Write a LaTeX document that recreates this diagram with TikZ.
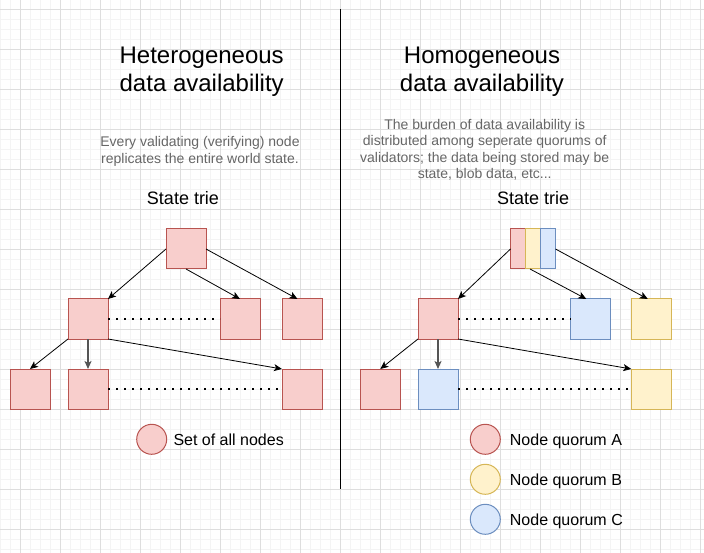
\documentclass[tikz,border=0pt]{standalone}
\usepackage{fontspec}
\setmainfont{Liberation Sans}
\usetikzlibrary{arrows.meta}
\definecolor{redF}{HTML}{F8CECC}
\definecolor{redS}{HTML}{B85450}
\definecolor{yelF}{HTML}{FFF2CC}
\definecolor{yelS}{HTML}{D6B656}
\definecolor{bluF}{HTML}{DAE8FC}
\definecolor{bluS}{HTML}{6C8EBF}
\definecolor{descC}{HTML}{666666}
\definecolor{thickC}{HTML}{555555}
\definecolor{gridMinor}{HTML}{F4F4F4}
\definecolor{gridMajor}{HTML}{DEDEDE}
\begin{document}
\begin{tikzpicture}[x=1pt,y=-1pt,
  box/.style={draw, line width=1pt, minimum size=40pt, inner sep=0pt, outer sep=0pt},
  rbox/.style={box, fill=redF, draw=redS},
  ybox/.style={box, fill=yelF, draw=yelS},
  bbox/.style={box, fill=bluF, draw=bluS},
  stripe/.style={draw, line width=1pt, minimum width=15pt, minimum height=40pt, inner sep=0pt, outer sep=0pt},
  legdot/.style={circle, line width=1pt, minimum size=30pt, inner sep=0pt},
  link/.style={-{Stealth[length=8pt,width=7pt,inset=2pt]}, line width=0.8pt, black},
  thicklink/.style={-{Stealth[length=8pt,width=7pt,inset=2pt]}, line width=2pt, thickC},
  dotline/.style={line width=2pt, dash pattern=on 2pt off 6pt, black},
  title/.style={font=\fontsize{24}{28.3}\selectfont, align=center, inner sep=0pt, anchor=base},
  desc/.style={font=\fontsize{14}{16.5}\selectfont, align=center, text=descC, inner sep=0pt, anchor=base},
  trie/.style={font=\fontsize{18}{21}\selectfont, inner sep=0pt, anchor=base},
  legtext/.style={font=\fontsize{16}{19}\selectfont, inner sep=0pt, anchor=base west},
  gminor/.style={gridMinor, line width=1pt},
  gmajor/.style={gridMajor, line width=1pt}
]
\useasboundingbox (0,0) rectangle (704,553);
\fill[white] (0,0) rectangle (704,553);
% grid
\foreach \x in {0,10,...,700} \draw[gminor] (\x,0) -- (\x,553);
\foreach \y in {9.3,19.3,...,550} \draw[gminor] (0,\y) -- (704,\y);
\foreach \x in {20,60,...,700} \draw[gmajor] (\x,0) -- (\x,553);
\foreach \y in {9.3,49.3,...,550} \draw[gmajor] (0,\y) -- (704,\y);

% divider
\coordinate (divtop) at (340.7,9.3);
\coordinate (divbot) at (340.7,489.3);
\draw[line width=1.3pt, black] (divtop) -- (divbot);

% ---------- left ----------
\node[title] (ltitle) at (201.7,91.6) {Heterogeneous\\data availability};
\node[desc] (ldesc) at (200,163.2) {Every validating (verifying) node\\replicates the entire world state.};
\node[trie] (ltrie) at (183,204.3) {State trie};

\node[rbox] (L0) at (186,249) {};
\node[rbox] (L1) at (88,319) {};
\node[rbox] (L2) at (240,319) {};
\node[rbox] (L3) at (302,319) {};
\node[rbox] (L4) at (30,389) {};
\node[rbox] (L5) at (88,389) {};
\node[rbox] (L6) at (302,389) {};

\draw[link] (L0.west) -- (L1.north east);
\draw[link] (L0.south) -- (L2.north);
\draw[link] (L0.east) -- ([xshift=-4.5pt]L3.north);
\draw[link] (L1.south west) -- (L4.north);
\draw[thicklink] (L1.south) -- (L5.north);
\draw[link] (L1.south east) -- (L6.north west);
\draw[dotline] (L1.east) -- (L2.west);
\draw[dotline] (L5.east) -- (L6.west);

\node[legdot, fill=redF, draw=redS] (lleg) at (151.7,439.3) {};
\node[legtext] (llegt) at (173.3,445) {Set of all nodes};

% ---------- right ----------
\node[title] (rtitle) at (482,91.6) {Homogeneous\\data availability};
\node[desc] (rdesc) at (484.7,178.8) {The burden of data availability is\\distributed among seperate quorums of\\validators; the data being stored may be\\state, blob data, etc...};
\node[trie] (rtrie) at (533.2,204.3) {State trie};

\node[stripe, fill=redF, draw=redS] (RA) at (518,249) {};
\node[stripe, fill=yelF, draw=yelS] (RB) at (533,249) {};
\node[stripe, fill=bluF, draw=bluS] (RC) at (548,249) {};
\node[rbox] (R1) at (438,319) {};
\node[bbox] (R2) at (590.3,319) {};
\node[ybox] (R3) at (651.3,319) {};
\node[rbox] (R4) at (380.3,389) {};
\node[bbox] (R5) at (438,389) {};
\node[ybox] (R6) at (651.3,389) {};

\draw[link] (RA.west) -- (R1.north east);
\draw[link] ([xshift=-3pt]RB.south) -- ([xshift=-4pt]R2.north);
\draw[link] (RC.east) -- ([xshift=-3.5pt]R3.north);
\draw[link] (R1.south west) -- (R4.north);
\draw[thicklink] (R1.south) -- (R5.north);
\draw[link] (R1.south east) -- (R6.north west);
\draw[dotline] (R1.east) -- (R2.west);
\draw[dotline] (R5.east) -- (R6.west);

\node[legdot, fill=redF, draw=redS] (rlegA) at (485.3,439.3) {};
\node[legtext] (rlegAt) at (509.7,445) {Node quorum A};
\node[legdot, fill=yelF, draw=yelS] (rlegB) at (485.3,479.3) {};
\node[legtext] (rlegBt) at (509.7,485) {Node quorum B};
\node[legdot, fill=bluF, draw=bluS] (rlegC) at (485.3,519.3) {};
\node[legtext] (rlegCt) at (509.7,525) {Node quorum C};
\end{tikzpicture}
\end{document}
